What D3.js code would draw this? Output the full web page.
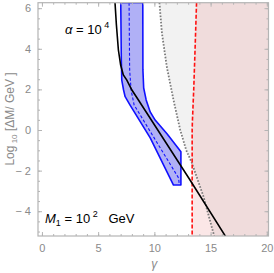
<!DOCTYPE html>
<html>
<head>
<style>
  body { margin: 0; background: white; }
  text { font-family: "Liberation Sans", Arial, sans-serif; }
  .axis path { display: none; }
  .axis line { stroke: #b4b4b4; }
</style>
</head>
<body>
<div id="chart"></div>
<script src="https://d3js.org/d3.v7.min.js"></script>
<script>
// curves: [gamma, log10 dM]
var blackLine = [[6.5,6.27],[6.62,5.2],[6.8,3.94],[7.0,3.2],[7.24,2.71],[7.55,2.46],[8.0,1.97],[8.58,1.48],[13.1,-2.4],[16.4,-5.3]];
var bandLeft = [[7.01,6.27],[7.06,3.45],[7.1,2.46],[7.26,1.97],[7.4,1.64],[7.84,1.23],[9.63,-0.39],[11.7,-2.71]];
var bandRight = [[12.36,-2.71],[12.36,-1.07],[11.14,-0.2],[10.07,0.49],[9.63,0.89],[9.27,1.48],[9.05,2.07],[8.98,2.96],[8.97,6.27]];
var bandMid = [[7.75,6.27],[7.8,2.96],[7.93,1.97],[8.2,1.23],[12.15,-2.36],[12.21,-2.66]];
var dottedLine = [[10.45,6.27],[10.67,4.78],[11.11,3.1],[11.7,1.48],[12.3,0.0],[12.83,-0.99],[13.34,-1.63],[14.38,-3.3],[15.32,-5.22]];
var redLine = [[13.75,6.27],[13.62,4.0],[13.5,2.0],[13.38,0.4],[13.36,0],[13.36,-5.22]];
var xTicks = [0, 5, 10, 15, 20];
var yTicks = [-4, -2, 0, 2, 4, 6];

var W = 274, H = 273;
var x = d3.scaleLinear().domain([-0.35, 20.15]).range([38, 268.5]);
var y = d3.scaleLinear().domain([-5.22, 6.27]).range([236, 2.7]);
var xMin = d3.range(0, 21, 1), yMin = d3.range(-5, 6.5, 0.5);

var svg = d3.select("#chart").append("svg").attr("width", W).attr("height", H);

svg.append("clipPath").attr("id", "clip").append("rect")
  .attr("x", x.range()[0]).attr("y", y.range()[1])
  .attr("width", x.range()[1] - x.range()[0]).attr("height", y.range()[0] - y.range()[1]);

var plot = svg.append("g").attr("clip-path", "url(#clip)");
var line = d3.line().x(function(d){ return x(d[0]); }).y(function(d){ return y(d[1]); });

// shaded regions: right of dotted (gray) and right of red (pink)
var xr = x.domain()[1] + 1;
var grayPoly = dottedLine.concat([[xr, -5.22], [xr, 6.27]]);
var pinkPoly = redLine.concat([[xr, -5.22], [xr, 6.27]]);
plot.append("path").attr("d", line(grayPoly) + "Z").attr("fill", "rgba(128,128,128,0.1)");
plot.append("path").attr("d", line(pinkPoly) + "Z").attr("fill", "rgba(230,110,110,0.17)");

// blue band
plot.append("path").attr("d", line(bandLeft.concat(bandRight)) + "Z")
  .attr("fill", "rgba(40,40,230,0.37)").attr("stroke", "#1010ff").attr("stroke-width", 1.6)
  .attr("stroke-linejoin", "round");
plot.append("path").attr("d", line(bandMid)).attr("fill", "none")
  .attr("stroke", "#1010ff").attr("stroke-width", 1.1).attr("stroke-dasharray", "3,2");

plot.append("path").attr("d", line(dottedLine)).attr("fill", "none")
  .attr("stroke", "#7a7a7a").attr("stroke-width", 1.8).attr("stroke-dasharray", "1.6,1.6");
plot.append("path").attr("d", line(redLine)).attr("fill", "none")
  .attr("stroke", "#ff1010").attr("stroke-width", 1.6).attr("stroke-dasharray", "4,2");
plot.append("path").attr("d", line(blackLine)).attr("fill", "none")
  .attr("stroke", "black").attr("stroke-width", 1.6);

// frame and ticks
var b = y.range()[0], t = y.range()[1], l = x.range()[0], r = x.range()[1];
function ax(axis, tr) {
  return svg.append("g").attr("class", "axis").attr("transform", tr).call(axis);
}
ax(d3.axisBottom(x).tickValues(xMin).tickSize(-2).tickFormat(""), "translate(0," + b + ")");
ax(d3.axisTop(x).tickValues(xMin).tickSize(-2).tickFormat(""), "translate(0," + t + ")");
ax(d3.axisLeft(y).tickValues(yMin).tickSize(-2).tickFormat(""), "translate(" + l + ",0)");
ax(d3.axisRight(y).tickValues(yMin).tickSize(-2).tickFormat(""), "translate(" + r + ",0)");
ax(d3.axisTop(x).tickValues(xTicks).tickSize(-4).tickFormat(""), "translate(0," + t + ")");
ax(d3.axisRight(y).tickValues(yTicks).tickSize(-4).tickFormat(""), "translate(" + r + ",0)");

var xa = ax(d3.axisBottom(x).tickValues(xTicks).tickSize(-4).tickPadding(8), "translate(0," + b + ")");
xa.selectAll("text").attr("fill", "#8a8a8a").style("font-size", "11px");
var ya = ax(d3.axisLeft(y).tickValues(yTicks).tickSize(-4).tickPadding(7)
  .tickFormat(function(d){ return d < 0 ? "\u2212 " + (-d) : d; }), "translate(" + l + ",0)");
ya.selectAll("text").attr("fill", "#8a8a8a").style("font-size", "11px");

svg.append("rect").attr("x", l).attr("y", t).attr("width", r - l).attr("height", b - t)
  .attr("fill", "none").attr("stroke", "#b4b4b4").attr("stroke-width", 1.2);

// axis titles
svg.append("text").attr("x", x(10)).attr("y", 268).attr("text-anchor", "middle")
  .attr("fill", "#8a8a8a").style("font-size", "12px").style("font-style", "italic")
  .attr("font-family", "DejaVu Serif, serif").text("\u03b3");

var yl = svg.append("text").attr("transform", "translate(14," + 119 + ") rotate(-90)")
  .attr("text-anchor", "middle").attr("fill", "#8a8a8a").style("font-size", "12px");
yl.append("tspan").text("Log");
yl.append("tspan").attr("dy", 3).style("font-size", "8px").text(" 10");
yl.append("tspan").attr("dy", -3).text(" [\u0394M/ GeV ]");

// annotations
var a1 = svg.append("text").attr("x", 65).attr("y", 34).style("font-size", "13px").attr("fill", "black");
a1.append("tspan").style("font-style", "italic").text("\u03b1");
a1.append("tspan").text(" = 10");
a1.append("tspan").attr("dy", -6).style("font-size", "9px").text(" 4");

var a2 = svg.append("text").attr("x", 45).attr("y", 223).style("font-size", "13px").attr("fill", "black")
  .attr("xml:space", "preserve").style("white-space", "pre");
a2.append("tspan").style("font-style", "italic").text("M");
a2.append("tspan").attr("dy", 3).style("font-size", "9px").text("1");
a2.append("tspan").attr("dy", -3).text(" = 10");
a2.append("tspan").attr("dy", -6).style("font-size", "9px").text(" 2");
a2.append("tspan").attr("dy", 6).text("   GeV");
</script>
</body>
</html>
